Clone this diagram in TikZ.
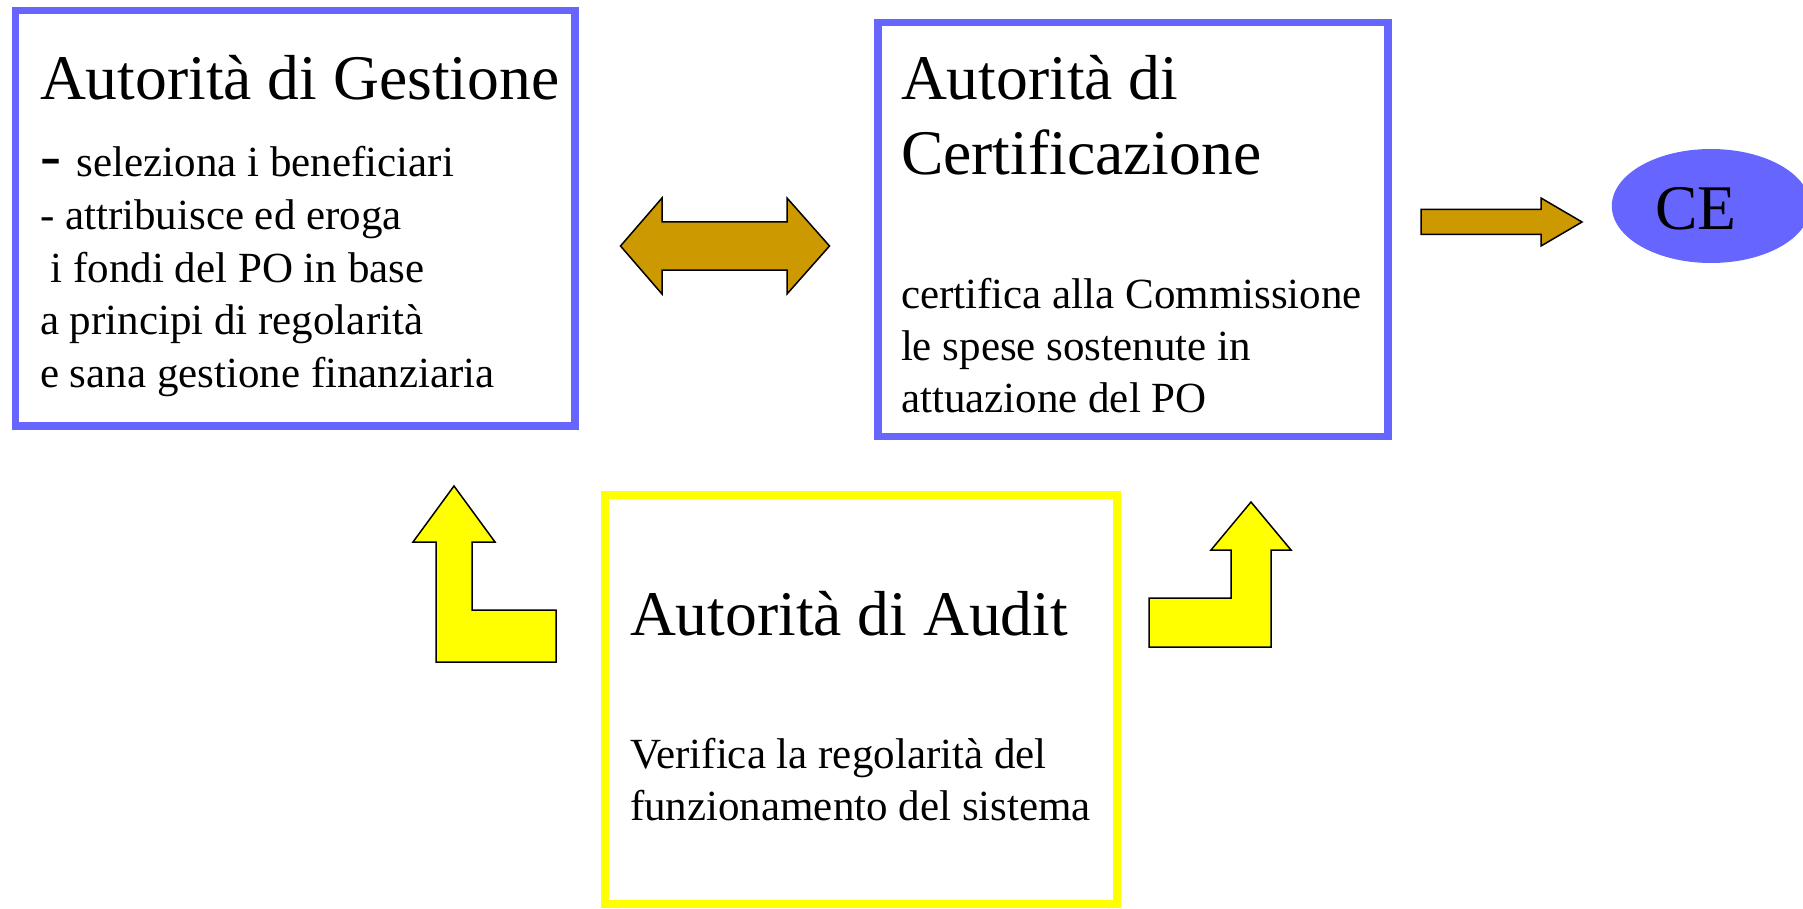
\documentclass[tikz,border=0pt]{standalone}
\usepackage{fontspec}
\setmainfont{Liberation Serif}
\usetikzlibrary{shapes.geometric}
\definecolor{pblue}{HTML}{6666FF}
\definecolor{pyellow}{HTML}{FFFF00}
\definecolor{pgold}{HTML}{CC9900}
\begin{document}
\begin{tikzpicture}[x=1pt,y=-1pt,
  bluebox/.style={draw=pblue, line width=7.5pt, fill=white, rectangle, inner sep=0pt},
  yellowbox/.style={draw=pyellow, line width=7.5pt, fill=white, rectangle, inner sep=0pt},
  big/.style={font=\fontsize{63.6}{76}\selectfont},
  small/.style={font=\fontsize{43}{52.5}\selectfont},
  txt/.style={anchor=base west, inner sep=0pt, outer sep=0pt},
  goldarrow/.style={draw=black, line width=1.5pt, line join=miter, fill=pgold},
  yellowarrow/.style={draw=black, line width=1.5pt, line join=miter, fill=pyellow}
]
\useasboundingbox (0,0) rectangle (1803,909);

% boxes
\node[bluebox, minimum width=559.5pt, minimum height=415.5pt] (ag) at (295,218.25) {};
\node[bluebox, minimum width=510pt, minimum height=414pt] (ac) at (1133,229.5) {};
\node[yellowbox, minimum width=512pt, minimum height=409pt] (aa) at (861,699.5) {};
\node[ellipse, fill=pblue, minimum width=198.4pt, minimum height=114pt, inner sep=0pt] (ce) at (1711,206) {};

% Autorita di Gestione
\node[txt, big] (agt) at (40,100) {Autorità di Gestione};
\node[txt, small] (ag1) at (40,177) {\fontsize{63}{75.6}\selectfont- \fontsize{43}{52.5}\selectfont seleziona i beneficiari};
\node[txt, small] (ag2) at (40,229.5) {- attribuisce ed eroga};
\node[txt, small] (ag3) at (40,282) {\ i fondi del PO in base};
\node[txt, small] (ag4) at (40,334.5) {a principi di regolarità};
\node[txt, small] (ag5) at (40,387) {e sana gestione finanziaria};

% Autorita di Certificazione
\node[txt, big] (act1) at (901,100) {Autorità di};
\node[txt, big] (act2) at (901,175) {Certificazione};
\node[txt, small] (ac1) at (901,308) {certifica alla Commissione};
\node[txt, small] (ac2) at (901,360) {le spese sostenute in};
\node[txt, small] (ac3) at (901,412) {attuazione del PO};

% Autorita di Audit
\node[txt, big] (aat) at (630,635) {Autorità di Audit};
\node[txt, small] (aa1) at (630,768) {Verifica la regolarità del};
\node[txt, small] (aa2) at (630,820) {funzionamento del sistema};

% CE
\node[anchor=base, inner sep=0pt, big] (cet) at (1696,230) {CE};

% double arrow between AG and AC
\draw[goldarrow] (620.5,246) -- (662,198) -- (662,222) -- (787,222) -- (787,198)
  -- (829.5,246) -- (787,294) -- (787,270) -- (662,270) -- (662,294) -- cycle;

% arrow to CE
\draw[goldarrow] (1421,209.5) -- (1541,209.5) -- (1541,198) -- (1582,222)
  -- (1541,246) -- (1541,234.5) -- (1421,234.5) -- cycle;

% left L arrow
\draw[yellowarrow] (436,662) -- (436,542) -- (413,542) -- (454,486) -- (495,542)
  -- (472,542) -- (472,610) -- (556,610) -- (556,662) -- cycle;

% right L arrow
\draw[yellowarrow] (1149,598) -- (1231,598) -- (1231,550) -- (1211,550) -- (1251,502)
  -- (1291,550) -- (1271,550) -- (1271,647) -- (1149,647) -- cycle;
\end{tikzpicture}
\end{document}
